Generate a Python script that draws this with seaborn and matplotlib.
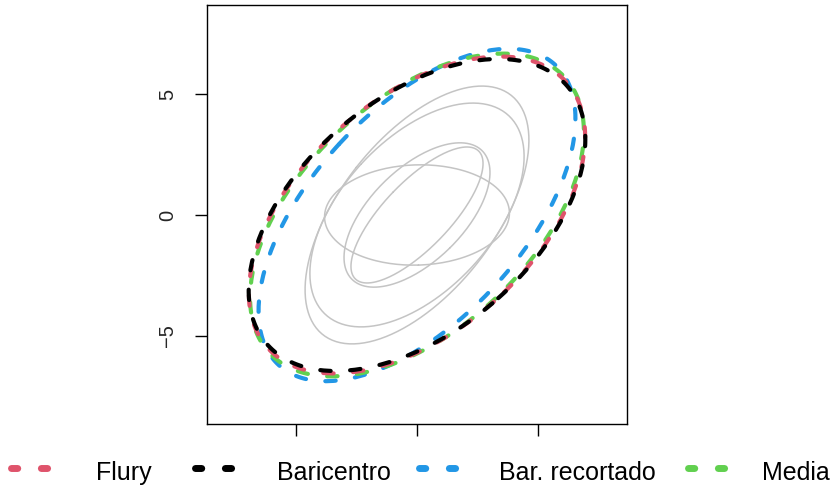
import numpy as np
import pandas as pd
import matplotlib
matplotlib.use("Agg")
import matplotlib.pyplot as plt
import seaborn as sns
from matplotlib.lines import Line2D

# ---- data: ellipse parameters (centre at origin, covariance-like entries) ----
big_names = ["Flury", "Baricentro", "Bar. recortado", "Media"]
big_sxx = [48.3, 48.4, 42.9, 47.6]
big_syy = [42.9, 41.6, 47.2, 44.5]
big_sxy = [22.5, 21.7, 26.0, 23.6]
big_colors = ["#DF536B", "#000000", "#2297E6", "#61D04F"]

grey_sxx = [21.4, 19.6, 9.1, 7.45, 14.6]
grey_syy = [28.4, 21.4, 8.9, 7.9, 4.3]
grey_sxy = [14.3, 10.7, 5.3, 5.8, 0.3]

y_ticks = [-5, 0, 5]
x_ticks = [-5, 0, 5]


def ellipse_df(sxx, syy, sxy, label, n=240):
    cov = np.array([[sxx, sxy], [sxy, syy]])
    vals, vecs = np.linalg.eigh(cov)
    t = np.linspace(0, 2 * np.pi, n)
    circ = np.vstack([np.cos(t), np.sin(t)])
    pts = vecs @ np.diag(np.sqrt(vals)) @ circ
    return pd.DataFrame({"x": pts[0], "y": pts[1], "id": label, "order": np.arange(n)})


sns.set_theme(style="ticks")
plt.rcParams["font.family"] = ["Liberation Sans", "DejaVu Sans"]
plt.rcParams["lines.scale_dashes"] = False

W, H = 833, 491
fig = plt.figure(figsize=(W / 100, H / 100), dpi=100)
ax = fig.add_axes([207 / W, 1 - 424 / H, (627 - 207) / W, (424 - 5) / H])

# grey ellipses
for i, (a, b, c) in enumerate(zip(grey_sxx, grey_syy, grey_sxy)):
    d = ellipse_df(a, b, c, f"g{i}")
    sns.lineplot(data=d, x="x", y="y", sort=False, estimator=None, ax=ax,
                 color="#C4C4C4", lw=1.1, legend=False)

# dashed big ellipses (draw order so black sits on top)
order = [2, 3, 0, 1]
for k in order:
    d = ellipse_df(big_sxx[k], big_syy[k], big_sxy[k], big_names[k])
    sns.lineplot(data=d, x="x", y="y", sort=False, estimator=None, ax=ax,
                 color=big_colors[k], lw=3.0, legend=False,
                 dashes=False)
    ln = ax.lines[-1]
    ln.set_dashes((7.5, 14.0))
    ln.set_dash_capstyle("round")

ax.set_xlim(-8.68, 8.68)
ax.set_ylim(-8.64, 8.68)
ax.set_xticks(x_ticks)
ax.set_xticklabels([])
ax.set_yticks(y_ticks)
ax.set_yticklabels([str(v).replace("-", "\u2212") for v in y_ticks],
                   rotation=90, va="center", fontsize=14.5)
ax.tick_params(axis="both", length=8.6, width=1.0, color="black", pad=13)
ax.set_xlabel("")
ax.set_ylabel("")
for s in ax.spines.values():
    s.set_visible(True)
    s.set_color("black")
    s.set_linewidth(1.0)

# legend drawn at bottom of the figure
leg_y = 1 - 468 / H
handle_x = [11, 195, 419, 688]
text_x = [96, 277, 499, 762]
for k in range(4):
    x0 = handle_x[k] / W
    x1 = (handle_x[k] + 40) / W
    l = Line2D([x0, x1], [leg_y, leg_y], transform=fig.transFigure,
               color=big_colors[k], lw=5.0, solid_capstyle="round")
    l.set_dashes((4.5, 17.0))
    l.set_dash_capstyle("round")
    fig.add_artist(l)
    fig.text(text_x[k] / W, 1 - 480 / H, big_names[k], fontsize=18,
             ha="left", va="baseline", color="black")

fig.savefig("out.png", dpi=100)
